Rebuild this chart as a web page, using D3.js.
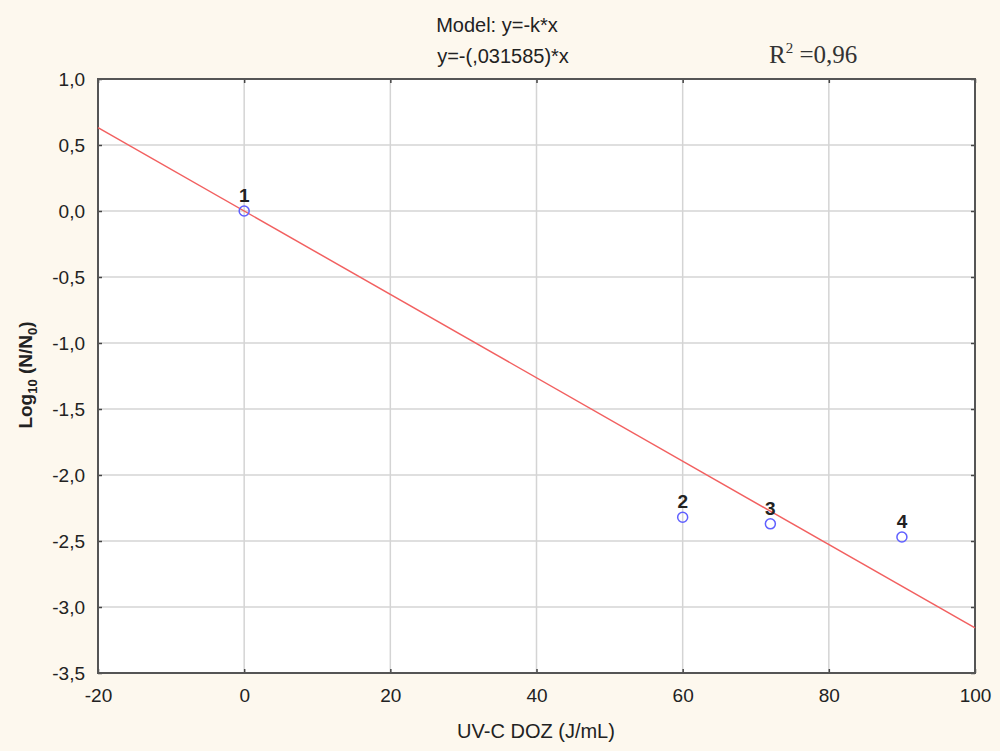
<!DOCTYPE html>
<html>
<head>
<meta charset="utf-8">
<script src="https://cdn.jsdelivr.net/npm/d3@7"></script>
<style>
  body { margin: 0; background: #fdf8ee; }
  svg { display: block; font-family: "Liberation Sans", Arial, sans-serif; }
</style>
</head>
<body>
<script>
// data
var doses = [0, 60, 72, 90];
var logRed = [0, -2.32, -2.37, -2.47];
var pointLabels = ["1", "2", "3", "4"];
var slope = -0.031585;
var xTicks = [-20, 0, 20, 40, 60, 80, 100];
var yTicks = [1.0, 0.5, 0.0, -0.5, -1.0, -1.5, -2.0, -2.5, -3.0, -3.5];

var w = 1000, h = 751;
var padL = 98, padR = 975, padT = 79, padB = 673;

var svg = d3.select("body").append("svg")
    .attr("width", w)
    .attr("height", h);

var x = d3.scaleLinear().domain([-20, 100]).range([padL, padR]);
var y = d3.scaleLinear().domain([-3.5, 1.0]).range([padB, padT]);

var yFmt = function(d){ return d.toFixed(1).replace(".", ","); };
var xFmt = function(d){ return String(d); };

//plot background
svg.append("rect")
    .attr("x", padL).attr("y", padT)
    .attr("width", padR - padL).attr("height", padB - padT)
    .style("fill", "#fff");

//grid lines
svg.selectAll(".vgrid")
    .data(xTicks.slice(1, -1))
    .enter().append("line")
    .attr("class", "vgrid")
    .attr("x1", function(d){ return x(d); })
    .attr("x2", function(d){ return x(d); })
    .attr("y1", padT).attr("y2", padB)
    .style("stroke", "#d4d4d4").style("stroke-width", 1.5);

svg.selectAll(".hgrid")
    .data(yTicks.slice(1, -1))
    .enter().append("line")
    .attr("class", "hgrid")
    .attr("y1", function(d){ return y(d); })
    .attr("y2", function(d){ return y(d); })
    .attr("x1", padL).attr("x2", padR)
    .style("stroke", "#d4d4d4").style("stroke-width", 1.5);

//axes (tick marks pointing inward)
var axisStyle = function(g){
    g.select(".domain").remove();
    g.selectAll(".tick line").style("stroke", "#444").style("stroke-width", 1.5);
    g.selectAll(".tick text")
        .style("font-size", "19px")
        .style("fill", "#222")
        .style("font-family", "Liberation Sans, Arial, sans-serif");
};

svg.append("g")
    .attr("transform", "translate(0," + padB + ")")
    .call(d3.axisBottom(x).tickValues(xTicks).tickFormat(xFmt).tickSizeInner(-4).tickSizeOuter(0).tickPadding(16))
    .call(axisStyle);

svg.append("g")
    .attr("transform", "translate(" + padL + ",0)")
    .call(d3.axisLeft(y).tickValues(yTicks).tickFormat(yFmt).tickSizeInner(-4).tickSizeOuter(0).tickPadding(13))
    .call(axisStyle);

svg.append("g")
    .attr("transform", "translate(" + padR + ",0)")
    .call(d3.axisRight(y).tickValues(yTicks).tickFormat("").tickSizeInner(-4).tickSizeOuter(0))
    .call(axisStyle);

svg.append("g")
    .attr("transform", "translate(0," + padT + ")")
    .call(d3.axisTop(x).tickValues(xTicks).tickFormat("").tickSizeInner(-4).tickSizeOuter(0))
    .call(axisStyle);

//frame
svg.append("rect")
    .attr("x", padL).attr("y", padT)
    .attr("width", padR - padL).attr("height", padB - padT)
    .style("fill", "none")
    .style("stroke", "#555")
    .style("stroke-width", 2);

//fitted line
svg.append("line")
    .attr("x1", x(-20)).attr("y1", y(slope * -20))
    .attr("x2", x(100)).attr("y2", y(slope * 100))
    .style("stroke", "#f26060")
    .style("stroke-width", 1.5);

//points
var pts = doses.map(function(d, i){ return {x: d, y: logRed[i], lab: pointLabels[i]}; });

svg.selectAll(".pt")
    .data(pts)
    .enter().append("circle")
    .attr("class", "pt")
    .attr("cx", function(d){ return x(d.x); })
    .attr("cy", function(d){ return y(d.y); })
    .attr("r", 5)
    .style("fill", "none")
    .style("stroke", "#6060ff")
    .style("stroke-width", 1.5);

svg.selectAll(".plab")
    .data(pts)
    .enter().append("text")
    .attr("class", "plab")
    .attr("x", function(d){ return x(d.x); })
    .attr("y", function(d){ return y(d.y) - 9; })
    .attr("text-anchor", "middle")
    .style("font-size", "19px")
    .style("font-weight", "bold")
    .style("fill", "#222")
    .text(function(d){ return d.lab; });

//titles
svg.append("text")
    .attr("x", 497).attr("y", 32)
    .attr("text-anchor", "middle")
    .style("font-size", "20px").style("fill", "#222")
    .text("Model: y=-k*x");

svg.append("text")
    .attr("x", 503).attr("y", 63)
    .attr("text-anchor", "middle")
    .style("font-size", "20px").style("fill", "#222")
    .text("y=-(,031585)*x");

var r2 = svg.append("text")
    .attr("x", 769).attr("y", 63)
    .style("font-family", "Liberation Serif, Times New Roman, serif")
    .style("font-size", "25px").style("fill", "#333");
r2.append("tspan").text("R");
r2.append("tspan").attr("dy", -10).style("font-size", "15px").text("2");
r2.append("tspan").attr("dy", 10).text(" =0,96");

//axis titles
svg.append("text")
    .attr("x", 536).attr("y", 738)
    .attr("text-anchor", "middle")
    .style("font-size", "20px").style("fill", "#222")
    .text("UV-C DOZ (J/mL)");

var ylab = svg.append("text")
    .attr("transform", "translate(32,375) rotate(-90)")
    .attr("text-anchor", "middle")
    .style("font-size", "19px").style("font-weight", "bold").style("fill", "#222");
ylab.append("tspan").text("Log");
ylab.append("tspan").attr("dy", 5).style("font-size", "13px").text("10");
ylab.append("tspan").attr("dy", -5).text(" (N/N");
ylab.append("tspan").attr("dy", 5).style("font-size", "13px").text("0");
ylab.append("tspan").attr("dy", -5).text(")");
</script>
</body>
</html>
